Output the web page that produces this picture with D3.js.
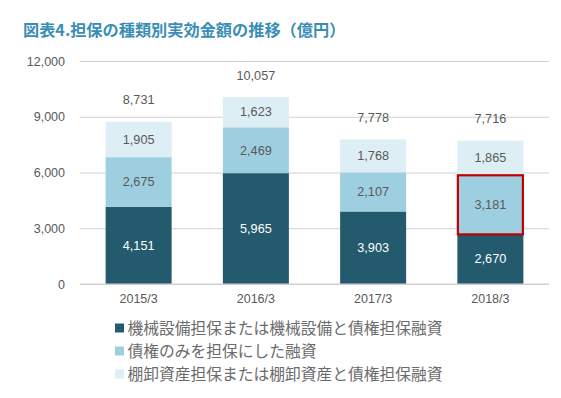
<!DOCTYPE html>
<html><head><meta charset="utf-8">
<script src="https://cdn.jsdelivr.net/npm/d3@7"></script>
<style>
body{margin:0;background:#fff;}
svg{display:block;font-family:"Liberation Sans","Noto Sans CJK JP",sans-serif;}
</style></head><body>
<svg id="c" width="561" height="398"></svg>
<script>
const categories = ["2015/3","2016/3","2017/3","2018/3"];
const machinery = [4151,5965,3903,2670];
const receivables = [2675,2469,2107,3181];
const inventory = [1905,1623,1768,1865];
const totals = [8731,10057,7778,7716];
const yTicks = [0,3000,6000,9000,12000];
const seriesNames = ["機械設備担保または機械設備と債権担保融資","債権のみを担保にした融資","棚卸資産担保または棚卸資産と債権担保融資"];
const colors = ["#245a6e","#9ecfe1","#ddeef5"];
const labelColors = ["#ffffff","#595959","#595959"];

const svg = d3.select("#c");
const x = d3.scaleBand().domain(categories).range([80,549]).paddingInner(0.437).paddingOuter(0.2185);
const y = d3.scaleLinear().domain([0,12000]).range([284,61]);
const fmt = d3.format(",");

svg.append("text").attr("x",23).attr("y",35.5).attr("fill","#3a8db5")
  .attr("font-size",16.2).attr("font-weight","bold").attr("font-family","'Noto Sans CJK JP',sans-serif")
  .text("図表4.担保の種類別実効金額の推移（億円）");

const yAxis = d3.axisLeft(y).tickValues(yTicks).tickFormat(fmt).tickSize(-(549-80)).tickPadding(15);
const ga = svg.append("g").attr("transform","translate(80,0)").call(yAxis);
ga.select(".domain").remove();
ga.selectAll(".tick line").attr("stroke","#d0d0d0").attr("stroke-width",1);
ga.selectAll(".tick text").attr("fill","#595959").attr("font-size",12.5).attr("font-family","'Liberation Sans',sans-serif");

const data = categories.map((c,i)=>({cat:c, vals:[machinery[i],receivables[i],inventory[i]], total:totals[i]}));
const stack = d3.stack().keys([0,1,2]).value((d,k)=>d.vals[k]);
const layers = stack(data);

layers.forEach((layer,k)=>{
  const g = svg.append("g");
  g.selectAll("rect").data(layer).enter().append("rect")
    .attr("x",d=>x(d.data.cat)).attr("width",x.bandwidth())
    .attr("y",d=>y(d[1])).attr("height",d=>y(d[0])-y(d[1]))
    .attr("fill",colors[k]);
  g.selectAll("text").data(layer).enter().append("text")
    .attr("x",d=>x(d.data.cat)+x.bandwidth()/2)
    .attr("y",d=>(y(d[0])+y(d[1]))/2+4.3)
    .attr("text-anchor","middle").attr("font-size",12.7).attr("fill",labelColors[k])
    .text(d=>fmt(d.data.vals[k]));
});

svg.append("line").attr("x1",80).attr("x2",549).attr("y1",y(0)).attr("y2",y(0)).attr("stroke","#d0d0d0");

svg.append("g").selectAll("text").data(data).enter().append("text")
  .attr("x",d=>x(d.cat)+x.bandwidth()/2).attr("y",d=>y(d.total)-17.5)
  .attr("text-anchor","middle").attr("font-size",12.7).attr("fill","#595959")
  .text(d=>fmt(d.total));

const hl = layers[1][3];
svg.append("rect").attr("x",x(categories[3])+0.5).attr("width",x.bandwidth()-1)
  .attr("y",y(hl[1])).attr("height",y(hl[0])-y(hl[1]))
  .attr("fill","none").attr("stroke","#c00000").attr("stroke-width",2.2);

svg.append("g").selectAll("text").data(categories).enter().append("text")
  .attr("x",d=>x(d)+x.bandwidth()/2).attr("y",302.5)
  .attr("text-anchor","middle").attr("font-size",12.5).attr("fill","#595959").text(d=>d);

const lg = svg.append("g");
seriesNames.forEach((n,i)=>{
  const cy = 328 + i*23;
  lg.append("rect").attr("x",115).attr("y",cy-4.5).attr("width",9).attr("height",9).attr("fill",colors[i]);
  lg.append("text").attr("x",127.5).attr("y",cy+5.5).attr("font-size",15.75).attr("fill","#6b6b6b")
    .attr("font-family","'Noto Sans CJK JP',sans-serif").text(n);
});
</script></body></html>
